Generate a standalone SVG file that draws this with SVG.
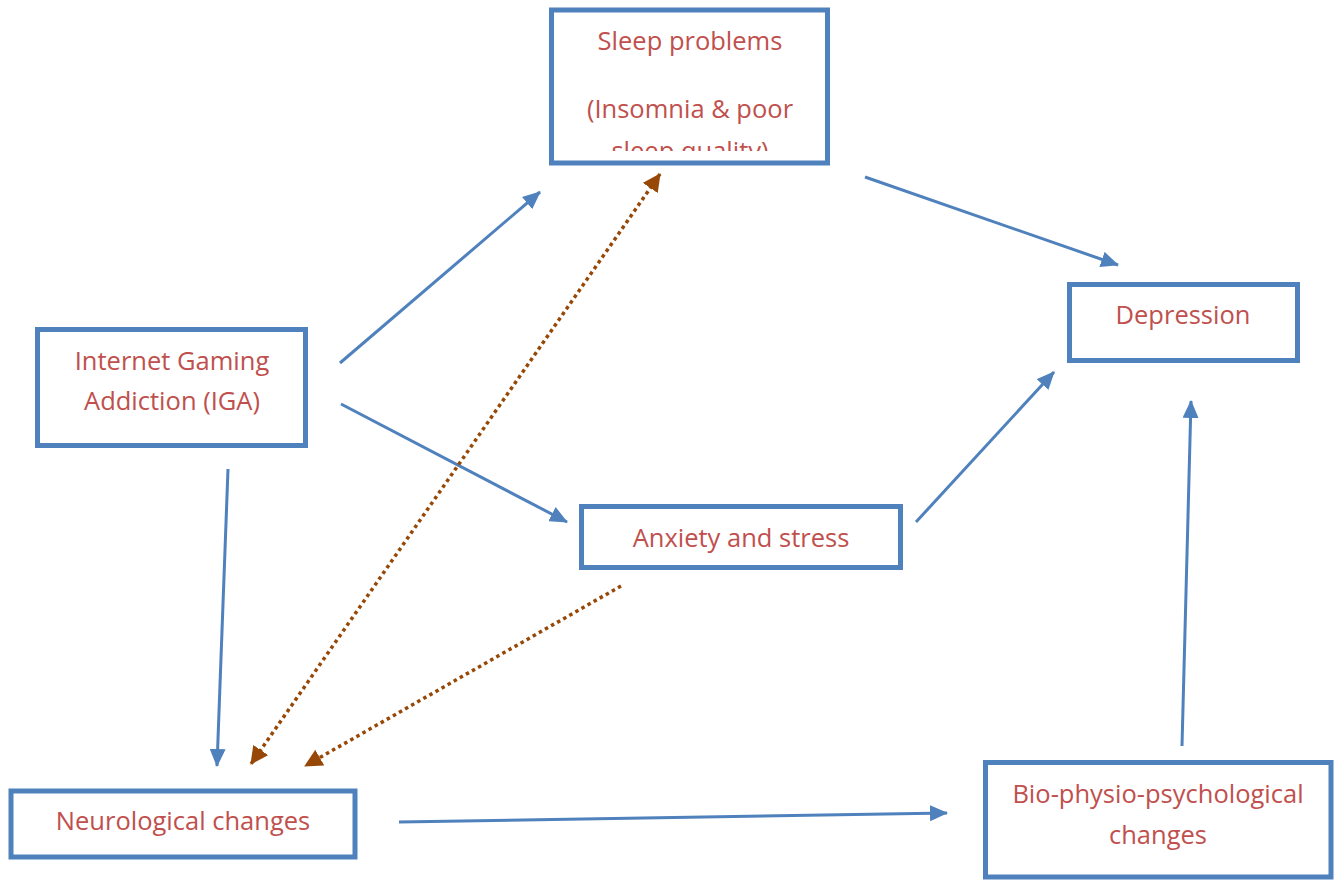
<svg xmlns="http://www.w3.org/2000/svg" width="1338" height="881" viewBox="0 0 1338 881">
<style>
.box{fill:#fff;stroke:#4F81BD;stroke-width:5}
.lbl{font-family:"Open Sans","Liberation Sans",sans-serif;font-size:25.5px;fill:#C0504D;text-anchor:middle;font-variant-ligatures:none}
.c{stroke:#4F81BD;stroke-width:3;fill:none}
.d{stroke:#974806;stroke-width:3.5;fill:none;stroke-dasharray:3.5 3.5}
</style>
<defs>
<marker id="ab" markerUnits="userSpaceOnUse" markerWidth="18" markerHeight="16" refX="17" refY="8" orient="auto"><path d="M0,0 L18,8 L0,16 Z" fill="#4F81BD"/></marker>
<marker id="ad" markerUnits="userSpaceOnUse" markerWidth="18" markerHeight="18" refX="17" refY="9" orient="auto"><path d="M0,0 L18,9 L0,18 Z" fill="#974806"/></marker>
<marker id="ads" markerUnits="userSpaceOnUse" markerWidth="18" markerHeight="18" refX="1" refY="9" orient="auto"><path d="M18,0 L0,9 L18,18 Z" fill="#974806"/></marker>
<clipPath id="sc"><rect x="553" y="12" width="274" height="139"/></clipPath>
</defs>
<rect width="1338" height="881" fill="#fff"/>
<g id="connectors">
<line class="c" x1="340" y1="363" x2="540" y2="192" marker-end="url(#ab)"/>
<line class="c" x1="341" y1="404" x2="567" y2="522" marker-end="url(#ab)"/>
<line class="c" x1="228" y1="469" x2="217" y2="766" marker-end="url(#ab)"/>
<line class="c" x1="865" y1="177" x2="1118" y2="265" marker-end="url(#ab)"/>
<line class="c" x1="916" y1="522" x2="1054" y2="372" marker-end="url(#ab)"/>
<line class="c" x1="399" y1="822" x2="947" y2="813" marker-end="url(#ab)"/>
<line class="c" x1="1182" y1="746" x2="1191" y2="401" marker-end="url(#ab)"/>
<line class="d" x1="660" y1="174" x2="251" y2="764" marker-start="url(#ads)" marker-end="url(#ad)"/>
<line class="d" x1="621" y1="586" x2="305" y2="766" marker-end="url(#ad)"/>
</g>
<g id="sleep">
<rect class="box" x="551.5" y="10" width="276" height="153"/>
<g clip-path="url(#sc)">
<text class="lbl" x="690" y="50">Sleep problems</text>
<text class="lbl" x="690" y="118">(Insomnia &amp; poor</text>
<text class="lbl" x="690" y="160">sleep quality)</text>
</g>
</g>
<g id="iga">
<rect class="box" x="37.5" y="329.5" width="268" height="116"/>
<text class="lbl" x="172" y="370">Internet Gaming</text>
<text class="lbl" x="172" y="410">Addiction (IGA)</text>
</g>
<g id="depression">
<rect class="box" x="1069.5" y="284.5" width="228" height="76"/>
<text class="lbl" x="1183" y="324">Depression</text>
</g>
<g id="anxiety">
<rect class="box" x="581.5" y="506.5" width="319" height="61"/>
<text class="lbl" x="741" y="547">Anxiety and stress</text>
</g>
<g id="neuro">
<rect class="box" x="11" y="791" width="344" height="66"/>
<text class="lbl" x="183" y="830">Neurological changes</text>
</g>
<g id="bio">
<rect class="box" x="985.5" y="762.5" width="345.5" height="114.5"/>
<text class="lbl" x="1158" y="803">Bio-physio-psychological</text>
<text class="lbl" x="1158" y="844">changes</text>
</g>
</svg>
